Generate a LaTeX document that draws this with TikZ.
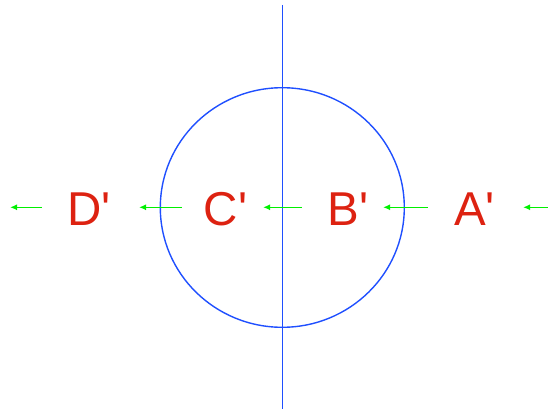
\documentclass[tikz,border=0pt]{standalone}
\usepackage{fontspec}
\newfontfamily\lblfont{Liberation Sans}
\usetikzlibrary{arrows.meta}
\definecolor{lblred}{HTML}{DD2211}
\definecolor{axblue}{HTML}{1F4FFF}
\definecolor{arrgreen}{HTML}{00F000}
\begin{document}
\begin{tikzpicture}[x=1pt,y=-1pt,
  lbl/.style={text=lblred,inner sep=0pt,anchor=base,font=\lblfont\fontsize{47.5}{50}\selectfont},
  ray/.style={draw=arrgreen,line width=1.6pt,-{Latex[length=7pt,width=6pt]}},
  optic/.style={draw=axblue,line width=1.4pt}]
\useasboundingbox (0,0) rectangle (548,409);
\draw[optic] (282.3,207.5) ellipse [x radius=122, y radius=119.8];
\coordinate (axtop) at (282.3,5);
\coordinate (axbot) at (282.3,409);
\draw[optic] (axtop) -- (axbot);
\node[lbl] (D) at (89,225) {D'};
\node[lbl] (C) at (225.5,225) {C'};
\node[lbl] (B) at (348,225) {B'};
\node[lbl] (A) at (474.5,225) {A'};
\coordinate (r1s) at (42,207.3);  \coordinate (r1e) at (10,207.3);
\coordinate (r2s) at (182,207.3); \coordinate (r2e) at (139,207.3);
\coordinate (r3s) at (302,207.3); \coordinate (r3e) at (263,207.3);
\coordinate (r4s) at (428,207.3); \coordinate (r4e) at (383,207.3);
\coordinate (r5s) at (548,207.3); \coordinate (r5e) at (523,207.3);
\draw[ray] (r1s) -- (r1e);
\draw[ray] (r2s) -- (r2e);
\draw[ray] (r3s) -- (r3e);
\draw[ray] (r4s) -- (r4e);
\draw[ray] (r5s) -- (r5e);
\end{tikzpicture}
\end{document}
